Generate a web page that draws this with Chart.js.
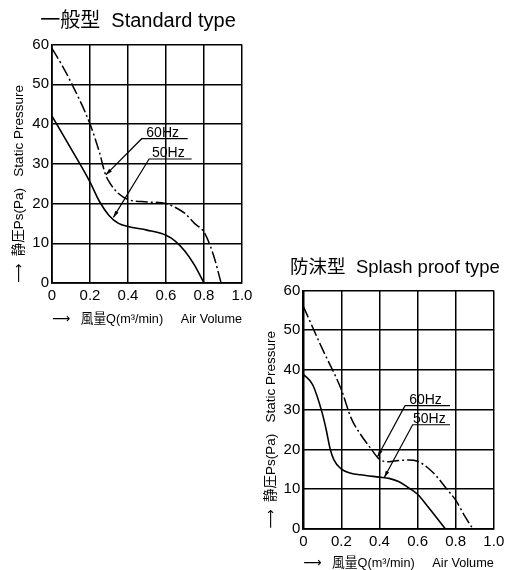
<!DOCTYPE html>
<html>
<head>
<meta charset="utf-8">
<script src="https://cdn.jsdelivr.net/npm/chart.js@4.4.1/dist/chart.umd.min.js"></script>
<style>
  html, body { margin: 0; padding: 0; background: #fff; overflow: hidden; }
  body { width: 507px; height: 570px; position: relative; }
  .box { position: absolute; }
  #std { left: 0; top: 0; width: 268px; height: 330px; }
  #spl { left: 252px; top: 244px; width: 278px; height: 326px; }
</style>
</head>
<body>
<div class="box" id="std"><canvas id="stdChart"></canvas></div>
<div class="box" id="spl"><canvas id="splChart"></canvas></div>
<script>
// tick labels and series names
const volumeTicks = ['0', '0.2', '0.4', '0.6', '0.8', '1.0'];
const pressureTicks = ['0', '10', '20', '30', '40', '50', '60'];
const freqLabels = ['60Hz', '50Hz'];

// 一般型 Standard type  (Q m3/min, Ps Pa)
const stdVolume60 = [0, 0.05, 0.1, 0.2, 0.25, 0.28, 0.3, 0.35, 0.4, 0.5, 0.6, 0.65, 0.7, 0.75, 0.8, 0.85, 0.89];
const stdPressure60 = [59, 55, 50.5, 40, 32.8, 27.5, 25.5, 22.5, 21, 20.4, 20, 19, 17.5, 15, 12.8, 7, 0];
const stdVolume50 = [0, 0.1, 0.2, 0.25, 0.3, 0.35, 0.4, 0.5, 0.6, 0.65, 0.7, 0.75, 0.8];
const stdPressure50 = [42, 33.8, 25.4, 20.5, 17, 15, 14.2, 13.3, 12, 10.5, 8, 4.5, 0];
// leader lines: arrow tip on the curve, underline start/end (data units)
const stdTipX = [0.283, 0.323];
const stdTipY = [27.2, 16.5];
const stdLineX = [0.472, 0.511];
const stdLineEndX = [0.714, 0.735];
const stdLineY = [36.3, 31.2];

// 防沫型 Splash proof type
const splVolume60 = [0, 0.1, 0.2, 0.25, 0.3, 0.35, 0.4, 0.45, 0.5, 0.55, 0.6, 0.65, 0.7, 0.75, 0.8, 0.85, 0.89];
const splPressure60 = [56, 45.3, 35, 28, 23.8, 20.5, 17.5, 16.9, 17.2, 17.3, 17, 15.5, 13.2, 10.2, 7.2, 3, 0];
const splVolume50 = [0, 0.05, 0.1, 0.12, 0.14, 0.16, 0.2, 0.25, 0.3, 0.4, 0.45, 0.5, 0.55, 0.6, 0.65, 0.7, 0.745];
const splPressure50 = [38.9, 36.2, 29, 25, 20.3, 17.4, 15, 14, 13.6, 13, 12.7, 11.9, 10.4, 8.7, 5.8, 2.8, 0];
const splTipX = [0.39, 0.425];
const splTipY = [18.2, 12.9];
const splLineX = [0.534, 0.574];
const splLineEndX = [0.77, 0.77];
const splLineY = [31, 26.2];

const FONT = "'Liberation Sans', 'Noto Sans CJK JP', 'DejaVu Sans', sans-serif";
Chart.defaults.font.family = FONT;
Chart.defaults.color = '#000';

function points(xs, ys) {
    return xs.map((x, i) => ({ x: x, y: ys[i] }));
}

// draws the "60Hz / 50Hz" labels with their underline and arrow
function leaderLines(tipX, tipY, lineX, lineEndX, lineY) {
    return {
        id: 'leaderLines',
        afterDatasetsDraw(chart) {
            const { ctx, scales: { x, y } } = chart;
            ctx.save();
            ctx.strokeStyle = '#000';
            ctx.fillStyle = '#000';
            ctx.lineWidth = 1.2;
            ctx.font = '14px ' + FONT;
            ctx.textAlign = 'center';
            freqLabels.forEach((label, i) => {
                const tx = x.getPixelForValue(tipX[i]);
                const ty = y.getPixelForValue(tipY[i]);
                const sx = x.getPixelForValue(lineX[i]);
                const sy = y.getPixelForValue(lineY[i]);
                const ex = x.getPixelForValue(lineEndX[i]);
                ctx.beginPath();
                ctx.moveTo(ex, sy);
                ctx.lineTo(sx, sy);
                ctx.lineTo(tx, ty);
                ctx.stroke();
                // arrow head
                const a = Math.atan2(ty - sy, tx - sx);
                ctx.beginPath();
                ctx.moveTo(tx, ty);
                ctx.lineTo(tx - 7 * Math.cos(a - 0.28), ty - 7 * Math.sin(a - 0.28));
                ctx.lineTo(tx - 7 * Math.cos(a + 0.28), ty - 7 * Math.sin(a + 0.28));
                ctx.closePath();
                ctx.fill();
                ctx.fillText(label, (sx + ex) / 2 - 2, sy - 2);
            });
            ctx.restore();
        }
    };
}

function makeChart(canvasId, title, titleSize, titlePad, yWidth, xHeight, rightWidth, padding, d60, d50, leaders) {
    return new Chart(document.getElementById(canvasId), {
        type: 'line',
        data: {
            datasets: [{
                label: freqLabels[0],
                data: d60,
                borderColor: '#000',
                borderWidth: 1.5,
                borderDash: [12, 3, 2, 3],
                pointRadius: 0,
                cubicInterpolationMode: 'monotone',
                fill: false
            }, {
                label: freqLabels[1],
                data: d50,
                borderColor: '#000',
                borderWidth: 1.6,
                pointRadius: 0,
                cubicInterpolationMode: 'monotone',
                fill: false
            }]
        },
        options: {
            responsive: true,
            maintainAspectRatio: false,
            animation: false,
            layout: { padding: padding },
            scales: {
                x: {
                    type: 'linear',
                    min: 0,
                    max: 1,
                    border: { color: '#000', width: 1.7 },
                    grid: { color: '#000', lineWidth: 1.5, drawTicks: false },
                    ticks: {
                        stepSize: 0.2,
                        autoSkip: false,
                        maxRotation: 0,
                        padding: 4,
                        font: { size: 15 },
                        callback: (value, index) => volumeTicks[index]
                    },
                    title: {
                        display: true,
                        text: '⟶   風量Q(m³/min)     Air Volume',
                        align: 'start',
                        font: { size: 13.5, lineHeight: 1 },
                        padding: 0
                    },
                    afterFit(scale) { scale.height = xHeight; }
                },
                y: {
                    min: 0,
                    max: 60,
                    border: { color: '#000', width: 1.7 },
                    grid: { color: '#000', lineWidth: 1.5, drawTicks: false },
                    ticks: {
                        stepSize: 10,
                        padding: 3,
                        font: { size: 15 },
                        callback: (value, index) => pressureTicks[index]
                    },
                    title: {
                        display: true,
                        text: '⟶  静圧Ps(Pa)   Static Pressure',
                        align: 'start',
                        font: { size: 13.5, lineHeight: 1 },
                        padding: { top: 5, bottom: 0 }
                    },
                    afterFit(scale) { scale.width = yWidth; }
                },
                // empty axis on the right: keeps the plot narrower than the title line
                gutter: {
                    position: 'right',
                    grid: { display: false },
                    border: { display: false },
                    ticks: { display: false },
                    afterFit(scale) { scale.width = rightWidth; }
                }
            },
            plugins: {
                legend: { display: false },
                tooltip: { enabled: false },
                title: {
                    display: true,
                    text: title,
                    color: '#000',
                    font: { size: titleSize, weight: 'normal' },
                    padding: titlePad
                }
            }
        },
        plugins: [leaders]
    });
}

makeChart('stdChart', '一般型  Standard type', 20, { top: 5, bottom: 11.5 }, 44, 43, 26,
    { left: 8, right: 0, top: 4, bottom: 4 },
    points(stdVolume60, stdPressure60), points(stdVolume50, stdPressure50),
    leaderLines(stdTipX, stdTipY, stdLineX, stdLineEndX, stdLineY));

makeChart('splChart', '防沫型  Splash proof type', 18.5, { top: 9, bottom: 11.3 }, 43.3, 41.2, 36.2,
    { left: 8, right: 0, top: 4, bottom: 0 },
    points(splVolume60, splPressure60), points(splVolume50, splPressure50),
    leaderLines(splTipX, splTipY, splLineX, splLineEndX, splLineY));
</script>
</body>
</html>
